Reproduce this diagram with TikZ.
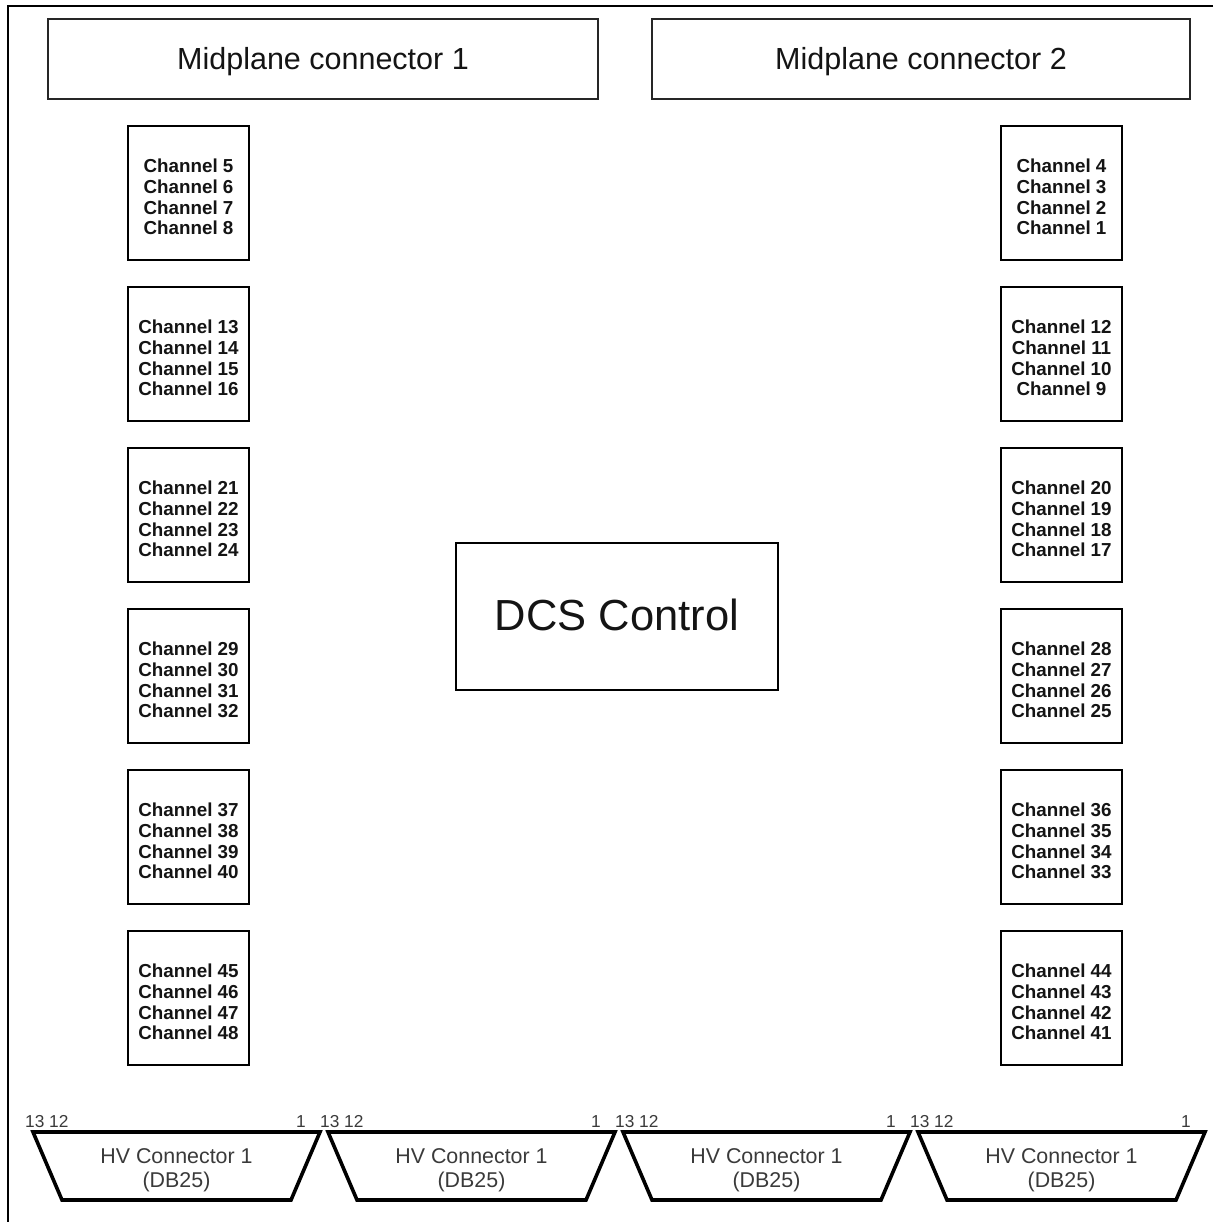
\documentclass[tikz,border=0pt]{standalone}
\usepackage{fontspec}
\setmainfont{Liberation Sans}
\definecolor{hvgray}{HTML}{3A3A3A}
\definecolor{txt}{HTML}{141414}
% first baseline placed L pt above the node centre
\newcommand{\atbase}[2]{\raisebox{#1}[0pt][0pt]{\begin{tabular}[t]{@{}c@{}}#2\end{tabular}}}
\newcommand{\chlines}[4]{\atbase{20.3pt}{Channel #1\\Channel #2\\Channel #3\\Channel #4}}
\begin{document}
\begin{tikzpicture}[x=1pt,y=-1pt,
  chbox/.style={draw, line width=1.3pt, minimum width=121pt, minimum height=134pt, inner sep=0pt, text=txt,
    font=\fontsize{18.8}{20.7}\selectfont\bfseries},
  midbox/.style={draw, draw=black!85, line width=1.3pt, minimum height=80pt, inner sep=0pt, text=txt,
    font=\fontsize{30.5}{35}\selectfont},
  dcsbox/.style={draw, line width=1.3pt, minimum width=322pt, minimum height=147pt, inner sep=0pt, text=txt,
    font=\fontsize{43.5}{50}\selectfont},
  hvtext/.style={text=hvgray, inner sep=0pt, font=\fontsize{21.4}{23.7}\selectfont},
  pinlbl/.style={inner sep=0pt, text=hvgray, font=\fontsize{17.3}{20}\selectfont},
  trap/.style={line width=3.6pt, line join=miter}
]
\useasboundingbox (0,0) rectangle (1213,1222);
% outer frame
\coordinate (fr1) at (1213,6);
\coordinate (fr2) at (8,6);
\coordinate (fr3) at (8,1222);
\draw[line width=1.3pt] (fr1) -- (fr2) -- (fr3);

\node[midbox, minimum width=550pt] (mid1) at (323,59) {\atbase{-10.3pt}{Midplane connector 1}};
\node[midbox, minimum width=538pt] (mid2) at (921,59) {\atbase{-10.3pt}{Midplane connector 2}};

\node[dcsbox] (dcs) at (617,616.5) {\atbase{-13.5pt}{DCS Control}};

\foreach \i/\a/\b/\c/\d in {0/5/6/7/8, 1/13/14/15/16, 2/21/22/23/24, 3/29/30/31/32, 4/37/38/39/40, 5/45/46/47/48}
  \node[chbox] (L\i) at (188.5,{193+161*\i}) {\chlines{\a}{\b}{\c}{\d}};
\foreach \i/\a/\b/\c/\d in {0/4/3/2/1, 1/12/11/10/9, 2/20/19/18/17, 3/28/27/26/25, 4/36/35/34/33, 5/44/43/42/41}
  \node[chbox] (R\i) at (1061.5,{193+161*\i}) {\chlines{\a}{\b}{\c}{\d}};

\foreach \k in {0,1,2,3}{
  \pgfmathsetmacro{\xo}{33+295*\k}
  \coordinate (T\k a) at (\xo,1132);
  \coordinate (T\k b) at (\xo+287,1132);
  \coordinate (T\k c) at (\xo+258,1200);
  \coordinate (T\k d) at (\xo+29,1200);
  \draw[trap] (T\k a) -- (T\k b) -- (T\k c) -- (T\k d) -- cycle;
  \node[hvtext] (HV\k) at (\xo+143.5,1163.3) {\atbase{0pt}{HV Connector 1\\(DB25)}};
  \node[pinlbl, anchor=base west] (P\k a) at (\xo-8,1127.5) {13 12};
  \node[pinlbl, anchor=base east] (P\k b) at (\xo+273,1127.5) {1};
}
\end{tikzpicture}
\end{document}
